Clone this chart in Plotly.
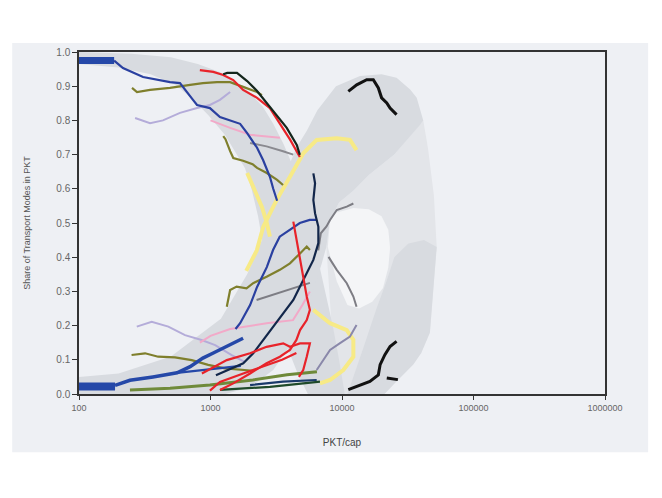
import plotly.graph_objects as go

# ---------------- axis ticks ----------------
X_TICKS = [100, 1000, 10000, 100000, 1000000]
X_TICK_TEXT = ["100", "1000", "10000", "100000", "1000000"]
Y_TICKS = [0.0, 0.1, 0.2, 0.3, 0.4, 0.5, 0.6, 0.7, 0.8, 0.9, 1.0]
Y_TICK_TEXT = ["0.0", "0.1", "0.2", "0.3", "0.4", "0.5", "0.6", "0.7", "0.8", "0.9", "1.0"]

# ---------------- shaded envelopes (PKT/cap, share) ----------------
band_decline_x = [100, 250, 500, 800, 1200, 1600, 2000, 2500, 3000, 3600, 4300, 5000, 5700, 6500, 7500, 8500, 9500, 10500,
                  5500, 4600, 3900, 3300, 2900, 2550, 2300, 2050, 1830, 1530, 1290, 960, 720, 540, 350, 200, 100]
band_decline_y = [1.0, 0.995, 0.985, 0.965, 0.94, 0.91, 0.88, 0.84, 0.79, 0.73, 0.66, 0.58, 0.5, 0.4, 0.3, 0.2, 0.1, 0.0,
                  0.0, 0.06, 0.13, 0.22, 0.32, 0.42, 0.52, 0.6, 0.66, 0.71, 0.757, 0.816, 0.865, 0.904, 0.935, 0.955, 0.965]

band_rise_x = [100, 200, 500, 1200, 1900, 2800, 3600, 4500, 5400, 6500, 9000, 13700, 20000, 26000, 33000, 37000, 41500,
               39000, 25000, 16000, 12200, 9500, 8100, 7600, 7000, 6000, 5000, 4000, 3000, 2000, 1300, 100]
band_rise_y = [0.05, 0.06, 0.11, 0.22, 0.35, 0.5, 0.63, 0.72, 0.77, 0.83, 0.9, 0.93, 0.935, 0.925, 0.89, 0.866, 0.80,
               0.786, 0.70, 0.64, 0.594, 0.56, 0.506, 0.43, 0.38, 0.3, 0.22, 0.14, 0.07, 0.02, 0.0, 0.0]

band_arch_x = [8100, 9500, 12200, 16000, 25000, 39000, 41500, 45000, 50000, 52500, 50000, 46600, 40000, 34800, 26000, 21000,
               9500, 8500, 7600]
band_arch_y = [0.506, 0.56, 0.594, 0.64, 0.70, 0.786, 0.80, 0.72, 0.58, 0.43, 0.33, 0.18, 0.12, 0.086, 0.037, 0.0,
               0.0, 0.15, 0.43]

hole_x = [8100, 9000, 12200, 16000, 20000, 22500, 23200, 22500, 20500, 17000, 13500, 11000, 9120, 7800]
hole_y = [0.506, 0.53, 0.544, 0.54, 0.52, 0.48, 0.427, 0.37, 0.31, 0.27, 0.25, 0.26, 0.33, 0.43]

band_fast_x = [11000, 12500, 14500, 18300, 21800, 25000, 32000, 42000, 52500, 50000, 46600, 40000, 34800, 26000, 21000]
band_fast_y = [0.0, 0.06, 0.134, 0.25, 0.33, 0.40, 0.44, 0.45, 0.43, 0.33, 0.18, 0.12, 0.086, 0.037, 0.0]

# ---------------- country trajectories (PKT/cap, share) ----------------
blue_top_thick_x = [100, 185]
blue_top_thick_y = [0.975, 0.975]
blue_top_x = [185, 216, 307, 492, 586, 662, 736, 790, 990, 1180, 1400, 1680, 1900, 2260, 2510, 2830, 3000, 3210]
blue_top_y = [0.975, 0.953, 0.927, 0.912, 0.909, 0.881, 0.86, 0.845, 0.836, 0.81, 0.80, 0.79, 0.763, 0.72, 0.684, 0.635, 0.60, 0.565]

blue_bot_thick_x = [100, 188]
blue_bot_thick_y = [0.022, 0.022]
blue_bot_x = [188, 244, 365, 557, 700, 875, 1050, 1400, 1770]
blue_bot_y = [0.025, 0.04, 0.05, 0.062, 0.08, 0.105, 0.12, 0.143, 0.163]
blue_low_x = [557, 880, 1330, 1700]
blue_low_y = [0.062, 0.07, 0.079, 0.082]
blue_rise_x = [1550, 1680, 2000, 2260, 2680, 2990, 3360, 4040, 4780, 5680, 6450]
blue_rise_y = [0.19, 0.207, 0.26, 0.313, 0.371, 0.421, 0.46, 0.48, 0.50, 0.509, 0.509]

red_top_x = [830, 1050, 1250, 1490, 1770, 2260, 2830, 3360, 4040, 4780]
red_top_y = [0.947, 0.942, 0.933, 0.918, 0.889, 0.866, 0.836, 0.792, 0.743, 0.693]
black_top_x = [1250, 1340, 1590, 1900, 2260, 2680, 3210, 3800, 4530, 4780]
black_top_y = [0.935, 0.939, 0.939, 0.915, 0.886, 0.851, 0.816, 0.778, 0.728, 0.699]
olive_top_x = [253, 276, 347, 492, 700, 875, 1120, 1410, 1770, 2260, 2460]
olive_top_y = [0.895, 0.883, 0.889, 0.895, 0.904, 0.909, 0.912, 0.912, 0.898, 0.883, 0.874]
olive_mid_x = [1250, 1300, 1410, 1490, 1770, 2090, 2260, 2680, 3210, 3560]
olive_mid_y = [0.754, 0.745, 0.71, 0.69, 0.682, 0.672, 0.661, 0.646, 0.626, 0.611]
lavender_top_x = [267, 347, 435, 586, 790, 990, 1180, 1410]
lavender_top_y = [0.807, 0.792, 0.80, 0.822, 0.836, 0.845, 0.86, 0.883]
pink_top_x = [1000, 1410, 2000, 2670, 3370]
pink_top_y = [0.80, 0.778, 0.758, 0.753, 0.749]
gray_top_x = [2000, 2670, 3560, 4260]
gray_top_y = [0.734, 0.724, 0.71, 0.70]

yellow_desc_x = [1900, 2170, 2460, 2680, 2830]
yellow_desc_y = [0.646, 0.596, 0.547, 0.50, 0.46]
yellow_rise_x = [1870, 2250, 2520, 3180, 4020, 5080, 6420, 9120, 11500, 12900]
yellow_rise_y = [0.36, 0.42, 0.489, 0.567, 0.635, 0.704, 0.743, 0.748, 0.743, 0.713]
yellow_low_x = [6050, 8110, 10870, 12200, 12200, 10240, 8110, 6800]
yellow_low_y = [0.246, 0.207, 0.187, 0.158, 0.109, 0.07, 0.041, 0.031]

black_hi_x = [11170, 12940, 15420, 17300, 18900, 20000, 21900, 23200, 26000]
black_hi_y = [0.885, 0.904, 0.919, 0.919, 0.895, 0.866, 0.851, 0.836, 0.817]
black_lo_x = [11170, 13700, 16300, 18900, 19500, 21200, 23200, 26000]
black_lo_y = [0.013, 0.027, 0.037, 0.056, 0.086, 0.115, 0.139, 0.154]
black_dash_x = [21900, 26600]
black_dash_y = [0.047, 0.042]

navy_rise_x = [1100, 1400, 1775, 2113, 2520, 3004, 3575, 4264, 4795, 5393, 6055, 6610, 6610, 6240, 6055, 6240, 6055]
navy_rise_y = [0.055, 0.072, 0.09, 0.119, 0.158, 0.197, 0.236, 0.275, 0.314, 0.353, 0.392, 0.441, 0.489, 0.528, 0.567, 0.616, 0.645]

red_tall_x = [1180, 1490, 2000, 2670, 3370, 4020, 4500, 4795, 5393, 5700, 5393, 5070, 4795, 4500, 4264]
red_tall_y = [0.012, 0.031, 0.06, 0.09, 0.109, 0.129, 0.158, 0.187, 0.216, 0.246, 0.285, 0.343, 0.401, 0.46, 0.504]
red_net_x = [860, 1330, 2000, 2670, 3575, 4020, 4795, 5700, 5393, 5070, 4700]
red_net_y = [0.06, 0.099, 0.119, 0.138, 0.148, 0.138, 0.148, 0.148, 0.109, 0.07, 0.05]
red_low_x = [990, 1180, 1775, 2500, 3500, 4500]
red_low_y = [0.01, 0.035, 0.06, 0.08, 0.10, 0.12]

olive_rise_x = [1330, 1410, 1580, 1880, 2110, 2370, 2670, 3370, 4020, 4795, 5393, 5700]
olive_rise_y = [0.255, 0.304, 0.314, 0.309, 0.324, 0.333, 0.343, 0.363, 0.382, 0.411, 0.431, 0.421]
olive_bot_x = [251, 318, 400, 537, 720, 960, 1290, 1720, 2100]
olive_bot_y = [0.114, 0.119, 0.109, 0.107, 0.099, 0.085, 0.075, 0.07, 0.068]
lavender_bot_x = [275, 357, 478, 640, 855, 1085, 1450, 1800]
lavender_bot_y = [0.197, 0.211, 0.197, 0.172, 0.158, 0.143, 0.114, 0.095]
pink_bot_x = [830, 1000, 1410, 2000, 2670, 4240, 5000, 5700]
pink_bot_y = [0.15, 0.17, 0.19, 0.20, 0.207, 0.216, 0.26, 0.30]

gray_mid_x = [2240, 3180, 4795, 5700]
gray_mid_y = [0.275, 0.294, 0.314, 0.325]
gray_rise_x = [6600, 6900, 7620, 8110, 9120, 10870, 12200]
gray_rise_y = [0.42, 0.47, 0.49, 0.509, 0.538, 0.548, 0.557]
gray_desc_x = [7900, 9120, 10870, 12200, 12900]
gray_desc_y = [0.401, 0.363, 0.324, 0.285, 0.255]
graypurple_x = [6420, 7200, 8110, 9600, 11500, 12900]
graypurple_y = [0.07, 0.099, 0.129, 0.148, 0.168, 0.202]

green_bot_x = [244, 492, 990, 2100, 3820, 6450]
green_bot_y = [0.012, 0.017, 0.026, 0.041, 0.056, 0.065]
dkgreen_bot_x = [1180, 2830, 6800]
dkgreen_bot_y = [0.012, 0.021, 0.036]
teal_bot_x = [2000, 3560, 6420]
teal_bot_y = [0.026, 0.036, 0.041]

BG = "#edeff3"
DARK_BAND = "#d8dbe0"
LIGHT_BAND = "#e3e5e9"
HOLE = "#f4f5f7"

fig = go.Figure()

def band(xs, ys, color):
    fig.add_trace(go.Scatter(x=xs, y=ys, mode="lines", fill="toself", fillcolor=color,
                             line=dict(width=0, color=color), hoverinfo="skip", showlegend=False))

band(band_arch_x, band_arch_y, LIGHT_BAND)
band(band_decline_x, band_decline_y, DARK_BAND)
band(band_rise_x, band_rise_y, DARK_BAND)
band(hole_x, hole_y, HOLE)
band(band_fast_x, band_fast_y, DARK_BAND)

series = [
    (lavender_top_x, lavender_top_y, "#b4acd9", 2),
    (pink_top_x, pink_top_y, "#f2a9c8", 2),
    (gray_top_x, gray_top_y, "#8a8a90", 2),
    (lavender_bot_x, lavender_bot_y, "#b4acd9", 2),
    (pink_bot_x, pink_bot_y, "#f2a9c8", 2),
    (yellow_desc_x, yellow_desc_y, "#f7ea86", 4),
    (yellow_rise_x, yellow_rise_y, "#f7ea86", 4),
    (yellow_low_x, yellow_low_y, "#f7ea86", 4),
    (olive_top_x, olive_top_y, "#7f7f2c", 2.2),
    (olive_mid_x, olive_mid_y, "#7f7f2c", 2.2),
    (olive_rise_x, olive_rise_y, "#7f7f2c", 2.2),
    (olive_bot_x, olive_bot_y, "#7f7f2c", 2.2),
    (green_bot_x, green_bot_y, "#6f8a3a", 3),
    (dkgreen_bot_x, dkgreen_bot_y, "#1f4a2a", 2.2),
    (teal_bot_x, teal_bot_y, "#1a3a6a", 2.2),
    (gray_mid_x, gray_mid_y, "#7d7d84", 2),
    (gray_rise_x, gray_rise_y, "#7d7d84", 2),
    (gray_desc_x, gray_desc_y, "#7d7d84", 2),
    (graypurple_x, graypurple_y, "#8a88aa", 2),
    (blue_top_thick_x, blue_top_thick_y, "#2548a8", 7),
    (blue_top_x, blue_top_y, "#2a40a0", 2.2),
    (blue_bot_thick_x, blue_bot_thick_y, "#2548a8", 8),
    (blue_bot_x, blue_bot_y, "#2548a8", 3.5),
    (blue_low_x, blue_low_y, "#2548a8", 2.2),
    (blue_rise_x, blue_rise_y, "#2a40a0", 2.2),
    (navy_rise_x, navy_rise_y, "#12264a", 2.2),
    (red_top_x, red_top_y, "#e8232a", 2.2),
    (black_top_x, black_top_y, "#14261c", 2.2),
    (red_tall_x, red_tall_y, "#e8232a", 2.2),
    (red_net_x, red_net_y, "#e8232a", 2.2),
    (red_low_x, red_low_y, "#e8232a", 2.2),
    (black_hi_x, black_hi_y, "#111111", 3),
    (black_lo_x, black_lo_y, "#111111", 3),
    (black_dash_x, black_dash_y, "#111111", 3),
]
for xs, ys, color, w in series:
    fig.add_trace(go.Scatter(x=xs, y=ys, mode="lines", line=dict(color=color, width=w),
                             hoverinfo="skip", showlegend=False))

font = "Liberation Sans, Arial, sans-serif"
# the page body has an 8px margin, so the figure is sized/offset to compensate
fig.update_layout(
    width=654, height=490,
    margin=dict(l=71, r=57, t=44, b=104),
    paper_bgcolor="white", plot_bgcolor=BG,
    font=dict(family=font, size=9, color="#555"),
    shapes=[dict(type="rect", xref="paper", yref="paper", x0=-0.127, x1=1.082, y0=-0.17, y1=1.026,
                 fillcolor="#eef0f4", line=dict(width=0), layer="below")],
)
fig.update_xaxes(type="log", range=[2, 6], tickvals=X_TICKS, ticktext=X_TICK_TEXT,
                 showgrid=False, zeroline=False, showline=True, linecolor="#333", linewidth=1.5,
                 mirror=True, ticks="outside", ticklen=4, tickcolor="#333",
                 tickfont=dict(size=9, color="#666"),
                 title=dict(text="PKT/cap", font=dict(size=10, color="#444"), standoff=27))
fig.update_yaxes(range=[0, 1], tickvals=Y_TICKS, ticktext=Y_TICK_TEXT,
                 showgrid=False, zeroline=False, showline=True, linecolor="#333", linewidth=1.5,
                 mirror=True, ticks="outside", ticklen=5, tickcolor="#333",
                 tickfont=dict(size=10, color="#666"),
                 title=dict(text="Share of Transport Modes in PKT", font=dict(size=9, color="#555"), standoff=24))

fig.write_html("out.html")
